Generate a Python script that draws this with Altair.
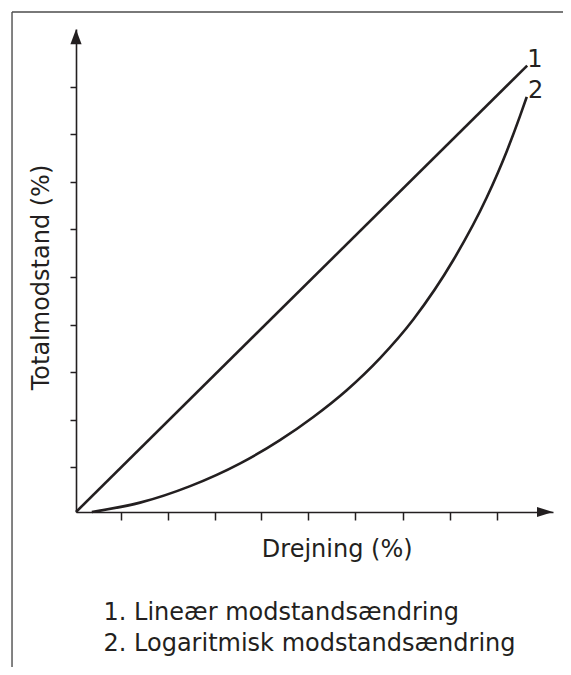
import altair as alt
import pandas as pd

# ---------------- data (percent units) ----------------
x_ticks = [9.9, 20.3, 30.7, 41.1, 51.5, 61.9, 72.4, 82.8, 93.2]
y_ticks = [10.0, 20.7, 31.3, 42.0, 52.7, 63.3, 74.0, 84.7, 95.3]

linear_x = [0, 100]
linear_y = [0, 100]

log_x = [3.5, 14.2, 25.3, 36.4, 45.2, 52.6, 60.0, 67.4, 74.8, 83.6, 91.0, 95.5, 98.4, 99.9]
log_y = [0.0, 2.1, 5.8, 10.9, 16.1, 21.3, 27.3, 34.5, 43.2, 56.4, 70.4, 80.9, 88.7, 93.0]

curve_labels = ["1", "2"]
label_x = [100.0, 100.2]
label_y = [99.8, 92.7]

legend_lines = ["1. Lineær modstandsændring", "2. Logaritmisk modstandsændring"]
legend_x = [6.1, 6.1]
legend_y = [-24.2, -31.1]

x_title = "Drejning (%)"
y_title = "Totalmodstand (%)"

X_DOMAIN = [0, 105.72]
Y_DOMAIN = [0, 108.22]
x_arrow = [103.94]
y_arrow = [106.48]
frame_left = -14.18
frame_top = 112.03
frame_far_right = 115.0
frame_far_bottom = -40.0

INK = "#231f20"
FONT = "DejaVu Sans"

# ---------------- tables ----------------
curves = pd.DataFrame({
    "x": linear_x + log_x,
    "y": linear_y + log_y,
    "curve": ["1"] * len(linear_x) + ["2"] * len(log_x),
})
labels = pd.DataFrame({"x": label_x, "y": label_y, "t": curve_labels})
legend = pd.DataFrame({"x": legend_x, "y": legend_y, "t": legend_lines})

xs = alt.Scale(domain=X_DOMAIN, nice=False, zero=False)
ys = alt.Scale(domain=Y_DOMAIN, nice=False, zero=False)

x_axis = alt.Axis(
    values=x_ticks, labels=False, grid=False,
    tickSize=8, tickWidth=1.5, tickColor=INK,
    domainColor=INK, domainWidth=1.6,
    title=x_title, titleFont=FONT, titleFontSize=24, titleFontWeight="normal",
    titleColor=INK, titleX=260.7, titleY=44.7, titleAlign="center",
    titleBaseline="alphabetic",
)
y_axis = alt.Axis(
    values=y_ticks, labels=False, grid=False,
    tickSize=6, tickWidth=1.5, tickColor=INK,
    domainColor=INK, domainWidth=1.6,
    title=y_title, titleFont=FONT, titleFontSize=24, titleFontWeight="normal",
    titleColor=INK, titleAngle=270, titleX=-28, titleY=248, titleAlign="center",
    titleBaseline="alphabetic",
)

lines = alt.Chart(curves).mark_line(
    color=INK, strokeWidth=2.6, interpolate="monotone"
).encode(
    x=alt.X("x:Q", scale=xs, axis=x_axis),
    y=alt.Y("y:Q", scale=ys, axis=y_axis),
    detail="curve:N",
)

y_head = alt.Chart(pd.DataFrame({"x": [0], "y": y_arrow})).mark_point(
    shape="M0,-1L0.75,1L-0.75,1Z", size=225, filled=True, opacity=1, color=INK, strokeWidth=0
).encode(x=alt.X("x:Q", scale=xs), y=alt.Y("y:Q", scale=ys))

x_head = alt.Chart(pd.DataFrame({"x": x_arrow, "y": [0]})).mark_point(
    shape="M1,0L-1,-0.625L-1,0.625Z", size=256, filled=True, opacity=1, color=INK, strokeWidth=0
).encode(x=alt.X("x:Q", scale=xs), y=alt.Y("y:Q", scale=ys))

frame_top_rule = alt.Chart(pd.DataFrame({"x": [frame_left], "x2": [frame_far_right], "y": [frame_top]})).mark_rule(
    color="#4d4d4d", strokeWidth=1.4
).encode(x=alt.X("x:Q", scale=xs), x2="x2:Q", y=alt.Y("y:Q", scale=ys))

frame_left_rule = alt.Chart(pd.DataFrame({"x": [frame_left], "y": [frame_far_bottom], "y2": [frame_top]})).mark_rule(
    color="#4d4d4d", strokeWidth=1.4
).encode(x=alt.X("x:Q", scale=xs), y=alt.Y("y:Q", scale=ys), y2="y2:Q")

label_text = alt.Chart(labels).mark_text(
    align="left", baseline="alphabetic", font=FONT, fontSize=24, color=INK
).encode(x=alt.X("x:Q", scale=xs), y=alt.Y("y:Q", scale=ys), text="t:N")

legend_text = alt.Chart(legend).mark_text(
    align="left", baseline="alphabetic", font=FONT, fontSize=24, color=INK
).encode(x=alt.X("x:Q", scale=xs), y=alt.Y("y:Q", scale=ys), text="t:N")

chart = alt.layer(
    frame_top_rule, frame_left_rule, lines, y_head, x_head, label_text, legend_text
).properties(
    width=477, height=483,
    autosize=alt.AutoSizeParams(type="none"),
    padding={"left": 68, "top": 21, "right": 10, "bottom": 155},
    background="white",
).configure_view(strokeWidth=0)

chart.save("out.html", embed_options={"renderer": "svg", "actions": False})
